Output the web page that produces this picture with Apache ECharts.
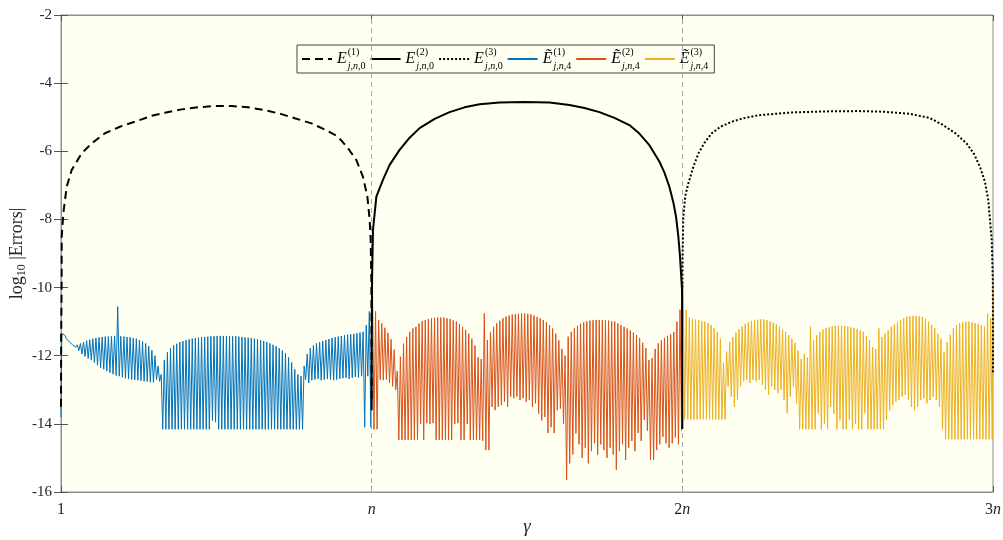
<!DOCTYPE html>
<html><head><meta charset="utf-8">
<script src="https://cdn.jsdelivr.net/npm/echarts@6/dist/echarts.min.js"></script>
<style>html,body{margin:0;padding:0;background:#fff}#c{width:1003px;height:540px}</style>
</head><body><div id="c"></div><script>
const SERIF = 'Liberation Serif';
// x axis in units of n
const xTicks = [0, 1, 2, 3];
const xTickLabels = ['1', '{i|n}', '2{i|n}', '3{i|n}'];
const yTicks = [-16, -14, -12, -10, -8, -6, -4, -2];
const dividers = [1, 2];

// Black reference curves
const e1X = [0,0.0005,0.002,0.0023,0.0075,0.0183,0.0344,0.0665,0.0987,0.1415,0.1897,0.2379,0.2916,0.3344,0.3881,0.4415,0.4952,0.5489,0.6023,0.6559,0.7096,0.7524,0.8061,0.8489,0.8917,0.9238,0.9508,0.972,0.9862,0.9936,0.9968,0.999,0.9997,1.0];
const e1Y = [-13.5,-11.5,-10.0,-8.5,-7.82,-7.04,-6.55,-6.06,-5.77,-5.47,-5.28,-5.13,-4.96,-4.87,-4.77,-4.71,-4.67,-4.67,-4.71,-4.79,-4.91,-5.03,-5.18,-5.36,-5.57,-5.91,-6.26,-6.75,-7.33,-8.02,-8.6,-9.8,-11.5,-13.3];
const e2X = [1.0,1.0003,1.0013,1.0042,1.0151,1.0363,1.0579,1.09,1.1222,1.1543,1.2026,1.2508,1.299,1.3473,1.4116,1.492,1.5723,1.6367,1.6849,1.7331,1.7814,1.8296,1.8617,1.8939,1.926,1.9421,1.9582,1.9711,1.9797,1.9871,1.9926,1.999,1.9995,2.0];
const e2Y = [-13.6,-11.5,-9.78,-8.31,-7.33,-6.84,-6.4,-5.96,-5.6,-5.32,-5.05,-4.85,-4.71,-4.62,-4.57,-4.55,-4.57,-4.64,-4.73,-4.85,-5.02,-5.23,-5.48,-5.82,-6.3,-6.62,-7.04,-7.5,-7.92,-8.5,-9.09,-10.07,-11.5,-14.15];
const e3X = [2.0,2.001,2.0032,2.0097,2.0194,2.0356,2.0518,2.0712,2.0948,2.123,2.1595,2.1974,2.246,2.3537,2.4563,2.5696,2.6505,2.7314,2.7961,2.8392,2.8803,2.9149,2.9385,2.9579,2.9741,2.9848,2.9958,2.9995,2.9998,3.0];
const e3Y = [-10.0,-9.0,-7.92,-7.3,-6.94,-6.45,-6.06,-5.75,-5.47,-5.28,-5.13,-5.03,-4.94,-4.86,-4.83,-4.82,-4.84,-4.9,-5.02,-5.23,-5.48,-5.77,-6.07,-6.45,-6.9,-7.43,-8.6,-9.78,-10.85,-12.5];

// Oscillating series: peak and trough values of each oscillation
const blueStart = -13.8, blueEnd = -9.8;
const blueTop = [-11.35,-11.4,-11.55,-11.64,-11.68,-11.68,-11.64,-11.6,-11.56,-11.53,
 -11.5,-11.48,-11.46,-11.45,-11.44,-11.44,-11.43,-11.43,-10.56,-11.43,
 -11.44,-11.45,-11.46,-11.48,-11.5,-11.54,-11.58,-11.64,-11.72,-11.84,
 -12.0,-12.3,-12.55,-12.13,-11.9,-11.78,-11.7,-11.65,-11.6,-11.57,
 -11.54,-11.52,-11.5,-11.48,-11.47,-11.46,-11.45,-11.44,-11.43,-11.43,
 -11.42,-11.42,-11.42,-11.42,-11.42,-11.43,-11.43,-11.44,-11.45,-11.46,
 -11.47,-11.48,-11.5,-11.52,-11.54,-11.57,-11.6,-11.64,-11.68,-11.72,
 -11.78,-11.85,-11.93,-12.05,-12.2,-12.4,-12.55,-12.6,-12.3,-11.95,
 -11.78,-11.7,-11.64,-11.6,-11.57,-11.54,-11.51,-11.48,-11.46,-11.44,
 -11.42,-11.4,-11.38,-11.37,-11.36,-11.34,-11.32,-11.3,-11.1,-10.7];
const blueBot = [-11.3,-11.5,-11.6,-11.68,-11.75,-11.85,-11.95,-12.02,-12.08,-12.13,
 -12.2,-12.28,-12.35,-12.4,-12.45,-12.5,-12.54,-12.58,-12.6,-12.63,
 -12.66,-12.68,-12.7,-12.71,-12.72,-12.73,-12.75,-12.76,-12.78,-12.78,
 -12.7,-12.75,-14.16,-14.16,-14.16,-14.16,-14.16,-14.16,-14.16,-14.16,
 -14.16,-14.16,-14.16,-14.16,-14.16,-14.16,-14.16,-14.16,-13.9,-13.95,
 -14.16,-14.16,-14.16,-14.16,-14.16,-14.16,-14.16,-14.16,-14.16,-14.16,
 -14.16,-14.16,-14.16,-14.16,-14.16,-14.16,-14.16,-14.16,-14.16,-14.16,
 -14.16,-14.16,-14.16,-14.16,-14.16,-14.16,-14.16,-14.16,-12.7,-12.8,
 -12.72,-12.7,-12.68,-12.72,-12.7,-12.68,-12.7,-12.72,-12.7,-12.68,
 -12.66,-12.65,-12.68,-12.65,-12.62,-12.64,-12.6,-14.1,-12.6,-14.1];
const orangeStart = -9.8, orangeEnd = -9.97;
const orangeTop = [-9.9,-10.7,-10.95,-11.05,-11.18,-11.33,-11.52,-11.82,-12.45,-12.03,
 -11.65,-11.45,-11.3,-11.2,-11.15,-11.05,-10.98,-10.95,-10.92,-10.9,
 -10.89,-10.88,-10.88,-10.88,-10.9,-10.92,-10.96,-11.0,-11.07,-11.15,
 -11.24,-11.35,-11.5,-11.7,-12.05,-12.1,-10.76,-11.54,-11.3,-11.15,
 -11.05,-10.97,-10.9,-10.85,-10.82,-10.79,-10.78,-10.77,-10.76,-10.76,
 -10.77,-10.79,-10.82,-10.86,-10.9,-10.95,-11.02,-11.1,-11.2,-11.35,
 -11.55,-11.8,-12.0,-11.44,-11.3,-11.2,-11.12,-11.06,-11.02,-10.99,
 -10.97,-10.96,-10.95,-10.95,-10.95,-10.96,-10.97,-10.99,-11.0,-11.05,
 -11.1,-11.15,-11.2,-11.26,-11.32,-11.39,-11.48,-11.62,-11.78,-12.13,
 -12.07,-11.8,-11.64,-11.55,-11.48,-11.42,-11.37,-11.3,-11.0,-10.65];
const orangeBot = [-14.16,-14.16,-12.7,-12.72,-12.7,-12.8,-12.9,-13.0,-14.47,-14.47,
 -14.47,-14.47,-14.47,-14.47,-14.47,-14.0,-14.47,-13.98,-14.0,-13.98,
 -14.47,-14.47,-14.47,-14.47,-14.47,-14.47,-14.0,-13.98,-14.47,-14.47,
 -14.0,-14.47,-14.47,-14.47,-14.47,-14.5,-14.77,-14.77,-13.5,-13.6,
 -13.5,-13.45,-13.35,-13.5,-13.2,-13.25,-13.2,-13.3,-13.25,-13.35,
 -13.3,-13.5,-13.4,-13.7,-13.9,-13.8,-14.27,-14.1,-14.27,-13.6,
 -13.55,-14.0,-15.65,-15.16,-14.9,-14.28,-14.6,-15.0,-14.7,-15.16,
 -14.8,-14.57,-14.9,-14.6,-14.77,-15.0,-14.7,-14.9,-15.35,-14.8,
 -14.6,-15.06,-14.7,-14.5,-14.8,-14.27,-14.5,-13.89,-14.2,-15.06,
 -15.06,-14.77,-14.6,-14.38,-14.57,-14.7,-14.57,-14.4,-14.6,-14.2];
const yellowStart = -9.97, yellowEnd = -9.8;
const yellowTop = [-9.85,-10.66,-10.88,-10.92,-10.94,-10.96,-10.98,-11.0,-11.04,-11.1,
 -11.18,-11.3,-11.5,-12.2,-11.88,-11.6,-11.45,-11.32,-11.22,-11.14,
 -11.07,-11.02,-10.98,-10.95,-10.94,-10.93,-10.94,-10.96,-10.99,-11.03,
 -11.08,-11.15,-11.22,-11.3,-11.4,-11.5,-11.62,-11.85,-12.1,-11.95,
 -12.05,-11.15,-11.55,-11.4,-11.3,-11.23,-11.19,-11.16,-11.14,-11.12,
 -11.12,-11.12,-11.13,-11.14,-11.16,-11.19,-11.22,-11.26,-11.3,-11.42,
 -11.55,-11.75,-11.8,-11.2,-11.45,-11.35,-11.25,-11.15,-11.08,-11.02,
 -10.95,-10.9,-10.86,-10.84,-10.83,-10.83,-10.84,-10.86,-10.92,-11.0,
 -11.1,-11.2,-11.35,-11.5,-11.88,-11.6,-11.39,-11.2,-11.1,-11.05,
 -11.02,-11.0,-11.0,-11.02,-11.04,-11.07,-11.1,-11.15,-10.76,-10.9];
const yellowBot = [-13.87,-13.87,-13.87,-13.87,-13.87,-13.87,-13.87,-13.87,-13.87,-13.87,
 -13.87,-13.87,-13.87,-13.87,-12.91,-13.2,-13.5,-13.3,-12.9,-12.75,
 -12.71,-12.8,-12.71,-12.75,-12.71,-12.85,-13.0,-13.15,-12.9,-13.0,
 -13.1,-13.0,-13.3,-13.69,-13.2,-12.9,-13.4,-14.16,-14.16,-14.16,
 -14.16,-14.16,-14.16,-13.69,-14.16,-14.0,-14.16,-13.5,-13.7,-14.16,
 -13.9,-14.16,-14.16,-13.87,-14.16,-14.0,-14.16,-14.16,-13.69,-14.16,
 -14.16,-14.16,-14.16,-14.16,-14.16,-13.87,-13.6,-13.45,-13.35,-13.3,
 -13.2,-13.15,-13.3,-13.5,-13.6,-13.5,-13.3,-13.25,-13.4,-13.3,
 -13.2,-13.3,-13.5,-14.16,-14.45,-14.45,-14.45,-14.45,-14.45,-14.45,
 -14.45,-14.45,-14.45,-14.45,-14.45,-14.45,-14.45,-14.45,-14.45,-14.45];

// Legend text pieces
const legendNames = ['E1','E2','E3','T1','T2','T3'];
const legendBase = ['E','E','E','\u1EBC','\u1EBC','\u1EBC'];
const legendSup = ['(1)','(2)','(3)','(1)','(2)','(3)'];
const legendSub = ['0','0','0','4','4','4'];

function pairs(xs, ys) { return xs.map((x, i) => [x, ys[i]]); }
function zigzag(x0, start, tops, bots, end) {
  const n = tops.length, step = 1 / n, d = [[x0, start]];
  for (let i = 0; i < n; i++) {
    d.push([x0 + (i + 0.25) * step, tops[i]]);
    d.push([x0 + (i + 0.75) * step, bots[i]]);
  }
  d.push([x0 + 1, end]);
  return d;
}

const chart = echarts.init(document.getElementById('c'), null, {renderer: 'canvas'});
const axisGray = '#8f8f8f';
const txt = '#262626';
const lineSeries = (name, data, color, width, type, z) => ({
  name, type: 'line', data, symbol: 'none', showSymbol: false, z,
  lineStyle: {color, width, type}, itemStyle: {color}, animation: false,
  emphasis: {disabled: true}
});
const series = [
  lineSeries('E1', pairs(e1X, e1Y), '#000000', 2, [8, 5], 5),
  lineSeries('E2', pairs(e2X, e2Y), '#000000', 2, 'solid', 5),
  lineSeries('E3', pairs(e3X, e3Y), '#000000', 2, [2, 2], 5),
  lineSeries('T1', zigzag(0, blueStart, blueTop, blueBot, blueEnd), '#0072BD', 1, 'solid', 3),
  lineSeries('T2', zigzag(1, orangeStart, orangeTop, orangeBot, orangeEnd), '#D95319', 1, 'solid', 3),
  lineSeries('T3', zigzag(2, yellowStart, yellowTop, yellowBot, yellowEnd), '#EDB120', 1, 'solid', 3)
];
series[3].markLine = {
  silent: true, symbol: 'none', label: {show: false}, animation: false,
  lineStyle: {color: '#a8a8a8', width: 1, type: [5, 4]},
  data: dividers.map(v => ({xAxis: v}))
};
chart.setOption({
  animation: false,
  backgroundColor: '#ffffff',
  grid: {left: 61, right: 10, top: 15, bottom: 48, show: true, backgroundColor: '#FFFFF2',
         borderColor: axisGray, borderWidth: 1, containLabel: false, outerBoundsMode: 'none'},
  legend: {
    data: legendNames, left: 297, top: 45, orient: 'horizontal',
    itemWidth: 30, itemHeight: 14, itemGap: 4, padding: [2, 6, 2, 4],
    borderColor: '#444', borderWidth: 1, backgroundColor: '#FFFFF2',
    selectedMode: false,
    itemStyle: {opacity: 0, color: 'transparent', borderColor: 'transparent', borderWidth: 0},
    formatter: name => {
      const k = legendNames.indexOf(name);
      return '{b|' + legendBase[k] + '}{p|' + legendSup[k] + '}{si|j,n,}{su|' + legendSub[k] + '}';
    },
    textStyle: {
      fontFamily: SERIF, fontSize: 16, color: '#000',
      rich: {
        b: {fontFamily: SERIF, fontStyle: 'italic', fontSize: 16, lineHeight: 24, verticalAlign: 'middle', color: '#000', padding: [0, 1, 0, 0]},
        p: {fontFamily: SERIF, fontSize: 10, lineHeight: 11, verticalAlign: 'top', width: 0, color: '#000'},
        si: {fontFamily: SERIF, fontStyle: 'italic', fontSize: 10, lineHeight: 11, verticalAlign: 'bottom', color: '#000'},
        su: {fontFamily: SERIF, fontSize: 10, lineHeight: 11, verticalAlign: 'bottom', color: '#000'}
      }
    }
  },
  xAxis: [{
    type: 'value', min: 0, max: 3, interval: 1,
    axisLine: {show: true, lineStyle: {color: axisGray}},
    axisTick: {show: true, inside: true, length: 6, lineStyle: {color: '#555'}},
    axisLabel: {
      formatter: v => xTickLabels[xTicks.indexOf(v)],
      fontFamily: SERIF, fontSize: 16, color: txt, margin: 10,
      rich: {i: {fontFamily: SERIF, fontStyle: 'italic', fontSize: 16, color: txt}}
    },
    splitLine: {show: false},
    name: '\u03B3', nameLocation: 'middle', nameGap: 25, nameMoveOverlap: false,
    nameTextStyle: {fontFamily: SERIF, fontStyle: 'italic', fontSize: 19, color: txt, verticalAlign: 'top'}
  }, {
    type: 'value', min: 0, max: 3, interval: 1, position: 'top',
    axisLine: {show: true, lineStyle: {color: axisGray}},
    axisTick: {show: true, inside: true, length: 6, lineStyle: {color: '#555'}},
    axisLabel: {show: false}, splitLine: {show: false}
  }],
  yAxis: [{
    type: 'value', min: -16, max: -2, interval: 2,
    axisLine: {show: true, lineStyle: {color: axisGray}},
    axisTick: {show: true, inside: true, length: 7, lineStyle: {color: '#555'}},
    axisLabel: {fontFamily: SERIF, fontSize: 15, color: txt, margin: 9,
      formatter: v => yTicks.indexOf(v) >= 0 ? String(v) : ''},
    splitLine: {show: false},
    name: 'log{sub|10} |Errors|', nameLocation: 'middle', nameGap: 33, nameRotate: 90, nameMoveOverlap: false,
    nameTextStyle: {fontFamily: SERIF, fontSize: 18, color: txt, lineHeight: 22,
      rich: {sub: {fontFamily: SERIF, fontSize: 12, color: txt, lineHeight: 13, verticalAlign: 'bottom'}}}
  }, {
    type: 'value', min: -16, max: -2, interval: 2, position: 'right',
    axisLine: {show: true, lineStyle: {color: axisGray}},
    axisTick: {show: true, inside: true, length: 7, lineStyle: {color: '#555'}},
    axisLabel: {show: false}, splitLine: {show: false}
  }],
  series
});
</script></body></html>
